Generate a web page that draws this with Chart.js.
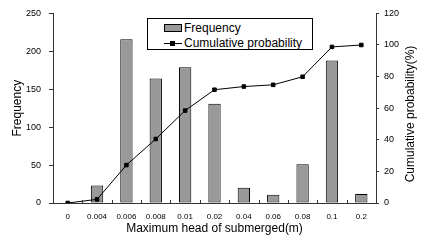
<!DOCTYPE html>
<html>
<head>
<meta charset="utf-8">
<script src="https://cdn.jsdelivr.net/npm/chart.js@4/dist/chart.umd.min.js"></script>
<style>
  body { margin: 0; background: #fff; }
  #wrap { position: relative; width: 421px; height: 240px; }
  #legend {
    position: absolute; left: 147px; top: 18px; width: 164px; height: 30px;
    border: 1px solid #000; background: #fff;
    font: 12px "Liberation Sans", Arial, sans-serif; color: #000;
  }
  .row { position: absolute; left: 0; height: 14px; line-height: 14px; }
  .txt { position: absolute; left: 36px; top: 0; white-space: nowrap; }
  .box { position: absolute; left: 16px; top: 3px; width: 16px; height: 6px; background: #999; border: 1px solid #000; }
  .ln { position: absolute; left: 16px; top: 7px; width: 18px; height: 1px; background: #000; }
  .mk { position: absolute; left: 22px; top: 5px; width: 5px; height: 5px; background: #000; }
</style>
</head>
<body>
<div id="wrap">
  <canvas id="chart" width="421" height="240"></canvas>
  <div id="legend">
    <div class="row" style="top:2px"><div class="box"></div><span class="txt">Frequency</span></div>
    <div class="row" style="top:17px"><div class="ln"></div><div class="mk"></div><span class="txt">Cumulative probability</span></div>
  </div>
</div>
<script>
// data
const labels = ['0', '0.004', '0.006', '0.008', '0.01', '0.02', '0.04', '0.06', '0.08', '0.1', '0.2'];
const frequency = [0, 23, 216, 164, 179, 131, 20, 11, 51, 188, 12];
const cumulative = [0, 2.3, 24.0, 40.5, 58.5, 71.7, 73.7, 74.8, 79.9, 98.8, 100];

const fontName = '"Liberation Sans", Arial, sans-serif';

// small inward ticks between categories + right axis title (reads bottom to top)
const extras = {
    id: 'extras',
    afterDraw(chart) {
        const { ctx, chartArea, scales } = chart;
        const x = scales.x;
        ctx.save();
        ctx.strokeStyle = '#333';
        ctx.lineWidth = 1;
        for (let i = 1; i < labels.length; i++) {
            const px = Math.round((x.getPixelForValue(i - 1) + x.getPixelForValue(i)) / 2) + 0.5;
            ctx.beginPath();
            ctx.moveTo(px, chartArea.bottom);
            ctx.lineTo(px, chartArea.bottom - 3);
            ctx.stroke();
        }
        ctx.translate(411, 114);
        ctx.rotate(-Math.PI / 2);
        ctx.fillStyle = '#000';
        ctx.font = '12px ' + fontName;
        ctx.textAlign = 'center';
        ctx.textBaseline = 'middle';
        ctx.fillText('Cumulative probability(%)', 0, 0);
        ctx.restore();
    }
};

new Chart(document.getElementById('chart'), {
    type: 'bar',
    data: {
        labels: labels,
        datasets: [
            {
                type: 'line',
                label: 'Cumulative probability',
                data: cumulative,
                yAxisID: 'y2',
                borderColor: '#000',
                borderWidth: 1,
                pointStyle: 'rect',
                pointRadius: 2.5,
                pointBackgroundColor: '#000',
                pointBorderColor: '#000',
                tension: 0,
                order: 0
            },
            {
                label: 'Frequency',
                data: frequency,
                yAxisID: 'y',
                backgroundColor: '#999999',
                borderColor: '#000',
                borderWidth: 1,
                borderSkipped: false,
                barPercentage: 0.42,
                categoryPercentage: 1,
                order: 1
            }
        ]
    },
    options: {
        responsive: false,
        animation: false,
        devicePixelRatio: 1,
        layout: { padding: { top: 13, left: 0, right: 0, bottom: 0 } },
        plugins: {
            legend: { display: false },
            tooltip: { enabled: false }
        },
        scales: {
            x: {
                grid: { display: false, drawTicks: false },
                border: { display: true, color: '#333' },
                ticks: { color: '#000', font: { family: fontName, size: 8 }, maxRotation: 0, autoSkip: false, padding: 9 },
                title: { display: true, text: 'Maximum head of submerged(m)', color: '#000', font: { family: fontName, size: 12 }, padding: { top: 0, bottom: 4 } },
                afterFit: (s) => { s.height = 37; }
            },
            y: {
                position: 'left',
                min: 0, max: 250,
                ticks: { stepSize: 50, color: '#000', font: { family: fontName, size: 9 }, padding: 8 },
                grid: { drawOnChartArea: false, drawTicks: true, tickLength: 4, color: '#333' },
                border: { display: true, color: '#333' },
                title: { display: true, text: 'Frequency', color: '#000', font: { family: fontName, size: 12 }, padding: { top: 10, bottom: 0 } },
                afterFit: (s) => { s.width = 53; }
            },
            y2: {
                position: 'right',
                min: 0, max: 120,
                ticks: { stepSize: 20, color: '#000', font: { family: fontName, size: 9 }, padding: 5 },
                grid: { drawOnChartArea: false, drawTicks: true, tickLength: 3, color: '#333' },
                border: { display: true, color: '#333' },
                afterFit: (s) => { s.width = 45; }
            }
        }
    },
    plugins: [extras]
});
</script>
</body>
</html>
